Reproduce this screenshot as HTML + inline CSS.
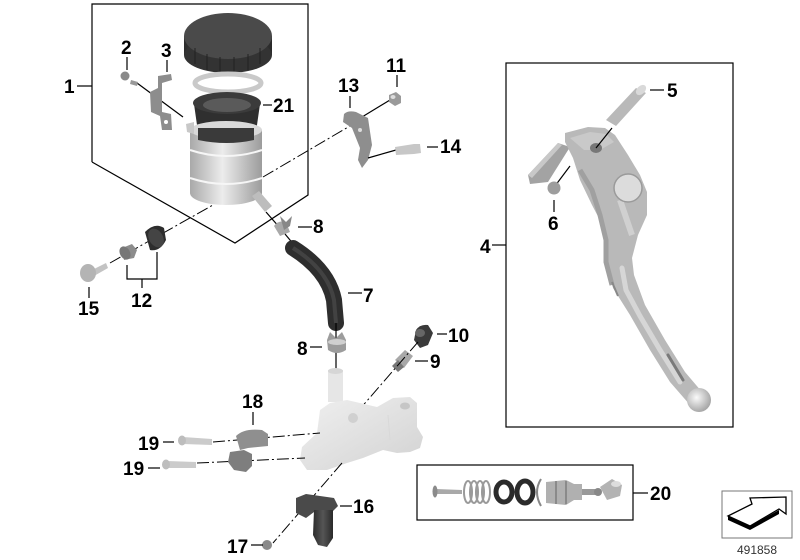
<!DOCTYPE html>
<html><head><meta charset="utf-8">
<style>
html,body{margin:0;padding:0;background:#fff;}
svg{display:block;}
.l{font-family:"Liberation Sans",Arial,sans-serif;font-weight:bold;font-size:19px;fill:#000;}
.ln{stroke:#000;stroke-width:1.2;fill:none;}
.dd{stroke:#000;stroke-width:1;fill:none;stroke-dasharray:12 3 2 3;}
</style></head>
<body>
<svg width="800" height="560" viewBox="0 0 800 560" xmlns="http://www.w3.org/2000/svg">
<defs>
<linearGradient id="met" x1="0" x2="1" y1="0" y2="0">
<stop offset="0" stop-color="#a9a9a9"/><stop offset="0.45" stop-color="#ececec"/><stop offset="1" stop-color="#9c9c9c"/>
</linearGradient>
<linearGradient id="dark" x1="0" x2="1" y1="0" y2="0">
<stop offset="0" stop-color="#2c2c2c"/><stop offset="0.5" stop-color="#555"/><stop offset="1" stop-color="#2a2a2a"/>
</linearGradient>
<linearGradient id="mc" x1="0" x2="1" y1="0" y2="1">
<stop offset="0" stop-color="#f0f0f0"/><stop offset="1" stop-color="#d2d2d2"/>
</linearGradient>
<radialGradient id="ball" cx="0.4" cy="0.4" r="0.6">
<stop offset="0" stop-color="#fafafa"/><stop offset="1" stop-color="#a8a8a8"/>
</radialGradient>
</defs>

<!-- Box 1 outline -->
<polyline class="ln" points="92,162 92,4 308,4 308,195 235,243 92,162"/>
<line class="ln" x1="77" y1="86" x2="92" y2="86"/>
<text class="l" x="64" y="93">1</text>

<!-- bolt 2 & clip 3 -->
<line class="ln" x1="127" y1="57" x2="127" y2="70"/>
<text class="l" x="121" y="54">2</text>
<line class="ln" x1="167" y1="60" x2="167" y2="72"/>
<text class="l" x="161" y="57">3</text>
<line class="ln" x1="137" y1="83" x2="183" y2="117"/>
<polygon points="131,80 138,82 137,86 130,84" fill="#999"/>
<circle cx="125" cy="76" r="4.5" fill="#8a8a8a"/>
<path d="M158,76 L171,74 L172,80 L162,83 L162,112 L171,114 L172,130 L162,130 L160,116 L151,112 L150,92 L158,88 Z" fill="#8d8d8d"/>
<circle cx="166" cy="122" r="2" fill="#fff"/>

<!-- reservoir cap -->
<rect x="184" y="36" width="88" height="19" fill="url(#dark)"/>
<ellipse cx="228" cy="55" rx="44" ry="18" fill="#333"/>
<ellipse cx="228" cy="36" rx="44" ry="23" fill="#4a4a4a"/>
<g stroke="#222" stroke-width="1">
<line x1="195" y1="48" x2="195" y2="64"/><line x1="207" y1="54" x2="207" y2="70"/><line x1="220" y1="57" x2="220" y2="73"/>
<line x1="234" y1="57" x2="234" y2="73"/><line x1="248" y1="54" x2="248" y2="70"/><line x1="260" y1="48" x2="260" y2="64"/>
</g>
<!-- ring -->
<ellipse cx="228" cy="83" rx="33" ry="9" fill="none" stroke="#c9c9c9" stroke-width="5"/>
<!-- bellows 21 -->
<path d="M194,104 L198,132 Q227,142 256,132 L260,104 Z" fill="#2f2f2f"/>
<ellipse cx="227" cy="103" rx="34" ry="11" fill="#3b3b3b"/>
<ellipse cx="227" cy="105" rx="24" ry="7" fill="#5a5a5a"/>
<line class="ln" x1="263" y1="105" x2="272" y2="105"/>
<text class="l" x="273" y="112">21</text>
<!-- reservoir body -->
<path d="M190,130 L190,193 A36,12 0 0 0 262,193 L262,130 Z" fill="url(#met)"/>
<ellipse cx="226" cy="130" rx="36" ry="9" fill="#d9d9d9"/>
<path d="M198,128 L198,140 Q227,146 254,140 L254,128 Z" fill="#3a3a3a"/>
<path d="M190,150 Q226,162 262,150" stroke="#f6f6f6" stroke-width="2" fill="none"/>
<path d="M190,178 Q226,190 262,178" stroke="#f6f6f6" stroke-width="2" fill="none"/>
<path d="M186,124 L194,122 L194,134 L187,132 Z" fill="#c8c8c8"/>
<polygon points="252,196 259,191 272,206 265,212" fill="#bdbdbd"/>
<line class="dd" x1="263" y1="177" x2="355" y2="123"/>
<line class="ln" x1="266" y1="212" x2="280" y2="228"/>

<!-- 13, 11, 14 -->
<line class="ln" x1="397" y1="75" x2="397" y2="87"/>
<text class="l" x="386" y="72">11</text>
<line class="ln" x1="350" y1="96" x2="350" y2="108"/>
<text class="l" x="338" y="92">13</text>
<line class="ln" x1="362" y1="117" x2="390" y2="100"/>
<polygon points="389,95 396,92 401,96 401,103 395,106 389,102" fill="#9a9a9a"/>
<ellipse cx="393" cy="97" rx="2.5" ry="2" fill="#ddd"/>
<path d="M344,114 Q348,110 356,112 L368,118 L372,145 L368,160 L362,168 L358,160 L360,148 L352,128 L343,122 Z" fill="#8e8e8e"/>
<circle cx="360" cy="130" r="2" fill="#ddd"/>
<line class="ln" x1="368" y1="158" x2="396" y2="150"/>
<polygon points="395,147 414,144 420,144 421,153 414,154 396,155" fill="#c7c7c7"/>
<line class="ln" x1="427" y1="147" x2="438" y2="147"/>
<text class="l" x="440" y="153">14</text>

<!-- 12, 15 -->
<line class="dd" x1="110" y1="263" x2="213" y2="205"/>
<path d="M145,232 Q155,222 164,228 L166,240 Q160,252 150,250 Z" fill="#2d2d2d"/>
<ellipse cx="156" cy="238" rx="7" ry="10" transform="rotate(-30 156 238)" fill="#444"/>
<path d="M122,248 L132,244 L137,250 L134,258 L124,260 Z" fill="#8c8c8c"/>
<ellipse cx="125" cy="253" rx="5" ry="7" transform="rotate(-30 125 253)" fill="#777"/>
<polygon points="92,270 106,263 108,268 94,276" fill="#c3c3c3"/>
<ellipse cx="88" cy="273" rx="8" ry="9" fill="#b4b4b4"/>
<polyline class="ln" points="127,265 127,279 157,279 157,252"/>
<line class="ln" x1="142" y1="279" x2="142" y2="288"/>
<text class="l" x="131" y="307">12</text>
<line class="ln" x1="89" y1="287" x2="89" y2="298"/>
<text class="l" x="78" y="315">15</text>

<!-- clip 8 upper -->
<path d="M274,226 Q278,220 286,222 L290,232 L280,236 Z" fill="#a9a9a9"/>
<path d="M280,216 L286,222 L292,216 L290,226 L284,230 Z" fill="#888"/>
<line class="ln" x1="298" y1="227" x2="312" y2="227"/>
<text class="l" x="313" y="233">8</text>
<line class="ln" x1="285" y1="234" x2="295" y2="246"/>
<!-- hose 7 -->
<path d="M293,248 Q328,270 334,300 L336,323" stroke="#2e2e2e" stroke-width="16" fill="none" stroke-linecap="round"/>
<path d="M293,248 Q328,270 334,300 L336,323" stroke="#505050" stroke-width="4" fill="none" opacity="0.6"/>
<line class="ln" x1="348" y1="293" x2="362" y2="293"/>
<text class="l" x="363" y="302">7</text>
<!-- clip 8 lower -->
<line class="ln" x1="336" y1="323" x2="336" y2="372"/>
<path d="M327,340 L330,332 L336,338 L342,332 L346,340 L346,350 Q337,356 328,350 Z" fill="#9c9c9c"/>
<ellipse cx="337" cy="342" rx="9" ry="3" fill="#d0d0d0"/>
<line class="ln" x1="310" y1="347" x2="322" y2="347"/>
<text class="l" x="297" y="355">8</text>

<!-- 10, 9 -->
<path d="M416,330 Q420,324 428,325 L433,333 L428,345 L420,348 L414,340 Z" fill="#3a3a3a"/>
<ellipse cx="420" cy="333" rx="5" ry="4" fill="#666"/>
<line class="ln" x1="437" y1="334" x2="447" y2="334"/>
<text class="l" x="448" y="342">10</text>
<polygon points="395,360 405,350 413,356 404,368" fill="#a8a8a8"/>
<polygon points="392,366 398,360 404,367 398,372" fill="#777"/>
<line class="ln" x1="415" y1="361" x2="428" y2="361"/>
<text class="l" x="430" y="368">9</text>
<line class="dd" x1="418" y1="342" x2="353" y2="417"/>

<!-- master cylinder -->
<rect x="328" y="370" width="15" height="32" fill="#e6e6e6"/>
<ellipse cx="335.5" cy="371" rx="7.5" ry="3" fill="#d6d6d6"/>
<path d="M320,410 L330,403 L347,400 L377,407 L393,398 L410,397 L417,403 L417,427 L423,437 L420,448 L410,452 L397,453 L383,450 L363,458 L347,463 L327,470 L307,470 L300,460 L302,447 L317,433 Z" fill="url(#mc)"/>
<circle cx="353" cy="418" r="5" fill="#d0d0d0"/>
<ellipse cx="405" cy="406" rx="5" ry="3.5" fill="#c6c6c6"/>
<path d="M388,415 L390,440" stroke="#d8d8d8" stroke-width="1" fill="none"/>

<!-- 18, 19 -->
<line class="ln" x1="253" y1="412" x2="253" y2="425"/>
<text class="l" x="242" y="408">18</text>
<line class="dd" x1="213" y1="442" x2="320" y2="433"/>
<line class="dd" x1="197" y1="463" x2="305" y2="458"/>
<path d="M236,436 Q244,428 262,430 L268,434 L268,446 L248,448 L240,450 Z" fill="#8f8f8f"/>
<path d="M230,452 L244,450 L252,454 L252,466 L246,472 L234,470 L228,462 Z" fill="#7e7e7e"/>
<polygon points="183,437 212,439 212,445 183,444" fill="#cbcbcb"/>
<ellipse cx="182" cy="440.5" rx="4" ry="5" fill="#bdbdbd"/>
<polygon points="167,461 196,462 196,468 167,468" fill="#cbcbcb"/>
<ellipse cx="166" cy="464.5" rx="4" ry="5" fill="#bdbdbd"/>
<line class="ln" x1="163" y1="442" x2="174" y2="442"/>
<text class="l" x="138" y="450">19</text>
<line class="ln" x1="148" y1="468" x2="160" y2="468"/>
<text class="l" x="123" y="475">19</text>

<!-- 16, 17 -->
<line class="dd" x1="342" y1="463" x2="273" y2="543"/>
<path d="M296,498 L306,494 L334,498 L338,506 L332,512 L314,512 L306,518 L296,513 Z" fill="#4a4a4a"/>
<path d="M314,510 L333,510 L333,538 L327,547 L318,545 L313,535 Z" fill="url(#dark)"/>
<line class="ln" x1="340" y1="506" x2="352" y2="506"/>
<text class="l" x="353" y="513">16</text>
<circle cx="267" cy="545" r="5" fill="#8a8a8a"/>
<line class="ln" x1="251" y1="545" x2="263" y2="545"/>
<text class="l" x="227" y="553">17</text>

<!-- Box 4 lever -->
<rect x="506" y="63" width="227" height="364" fill="none" stroke="#000" stroke-width="1.2"/>
<line class="ln" x1="492" y1="245" x2="506" y2="245"/>
<text class="l" x="480" y="253">4</text>
<polygon points="528,175 558,143 570,147 548,182 530,184" fill="#a3a3a3"/>
<polygon points="528,175 558,143 562,145 532,178" fill="#c8c8c8"/>
<path d="M565,133 L588,127 L605,128 L615,135 L628,155 L640,175 L647,192 L647,215 L638,235 L632,258 L634,275 L645,305 L665,340 L685,372 L702,392 L690,405 L670,382 L650,350 L630,315 L613,288 L608,265 L608,245 L603,226 L592,205 L580,180 L573,158 L565,142 Z" fill="#b9b9b9"/>
<path d="M570,138 L590,132 L606,134 L614,142 L600,150 L584,150 Z" fill="#c9c9c9"/>
<path d="M580,170 L592,190 L600,215 L606,240 L606,262 L612,285" stroke="#a0a0a0" stroke-width="5" fill="none"/>
<path d="M622,268 L626,290 L640,316 L660,350 L680,382" stroke="#d6d6d6" stroke-width="5" fill="none" stroke-linecap="round"/>
<path d="M620,200 L632,235" stroke="#d0d0d0" stroke-width="6" fill="none"/>
<path d="M668,355 L683,380" stroke="#7a7a7a" stroke-width="3" fill="none" stroke-linecap="round"/>
<path d="M612,282 L618,296" stroke="#888" stroke-width="2" fill="none"/>
<circle cx="699" cy="400" r="12" fill="url(#ball)"/>
<circle cx="628" cy="188" r="14" fill="#dcdcdc" stroke="#9a9a9a" stroke-width="1.5"/>
<ellipse cx="596" cy="148" rx="6" ry="5" fill="#777"/>
<line class="ln" x1="596" y1="148" x2="612" y2="128"/>
<polygon points="606,120 636,88 646,93 616,126" fill="#b9b9b9"/>
<ellipse cx="641" cy="90" rx="6" ry="4" transform="rotate(-45 641 90)" fill="#d9d9d9"/>
<line class="ln" x1="650" y1="90" x2="664" y2="90"/>
<text class="l" x="667" y="97">5</text>
<line class="ln" x1="555" y1="186" x2="570" y2="166"/>
<circle cx="554" cy="188" r="6.5" fill="#9d9d9d"/>
<line class="ln" x1="554" y1="200" x2="554" y2="212"/>
<text class="l" x="548" y="230">6</text>

<!-- Box 20 -->
<rect x="417" y="465" width="216" height="55" fill="none" stroke="#000" stroke-width="1.2"/>
<line class="ln" x1="633" y1="493" x2="648" y2="493"/>
<text class="l" x="650" y="500">20</text>
<polygon points="436,489 462,490 462,494 436,494" fill="#a9a9a9"/>
<ellipse cx="435" cy="491.5" rx="2.5" ry="6" fill="#8b8b8b"/>
<g fill="none" stroke="#9a9a9a" stroke-width="2">
<ellipse cx="468" cy="492" rx="4" ry="11"/><ellipse cx="474" cy="492" rx="4" ry="11"/><ellipse cx="480" cy="492" rx="4" ry="11"/><ellipse cx="486" cy="492" rx="4" ry="11"/>
</g>
<ellipse cx="504" cy="492" rx="8" ry="10" fill="none" stroke="#2b2b2b" stroke-width="5"/>
<ellipse cx="525" cy="492" rx="8" ry="11" fill="none" stroke="#2b2b2b" stroke-width="5"/>
<path d="M541,479 Q533,492 541,506" stroke="#888" stroke-width="2" fill="none"/>
<path d="M546,482 L566,480 L574,484 L582,484 L582,500 L574,500 L566,505 L546,503 Z" fill="#b0b0b0"/>
<line x1="556" y1="481" x2="556" y2="504" stroke="#8a8a8a" stroke-width="2"/>
<line x1="566" y1="481" x2="566" y2="504" stroke="#8a8a8a" stroke-width="2"/>
<polygon points="582,489 596,489 596,495 582,495" fill="#999"/>
<circle cx="598" cy="492" r="4" fill="#888"/>
<path d="M600,487 L612,479 L622,485 L620,496 L607,500 Z" fill="#b3b3b3"/>
<ellipse cx="616" cy="484" rx="5" ry="3" fill="#ddd"/>

<!-- logo -->
<rect x="722" y="491" width="70" height="47" fill="none" stroke="#777" stroke-width="1"/>
<polygon points="728,516 750,526 750,530 728,520" fill="#000"/>
<polygon points="750,526 779,510 779,514 750,530" fill="#000"/>
<polygon points="728,516 752,504 750,498 786,497 786,514 779,509 750,526" fill="#fff" stroke="#000" stroke-width="1.3"/>
<text x="757" y="554" text-anchor="middle" style="font-family:'Liberation Sans',Arial,sans-serif;font-size:12px;fill:#333;">491858</text>
</svg>
</body></html>
